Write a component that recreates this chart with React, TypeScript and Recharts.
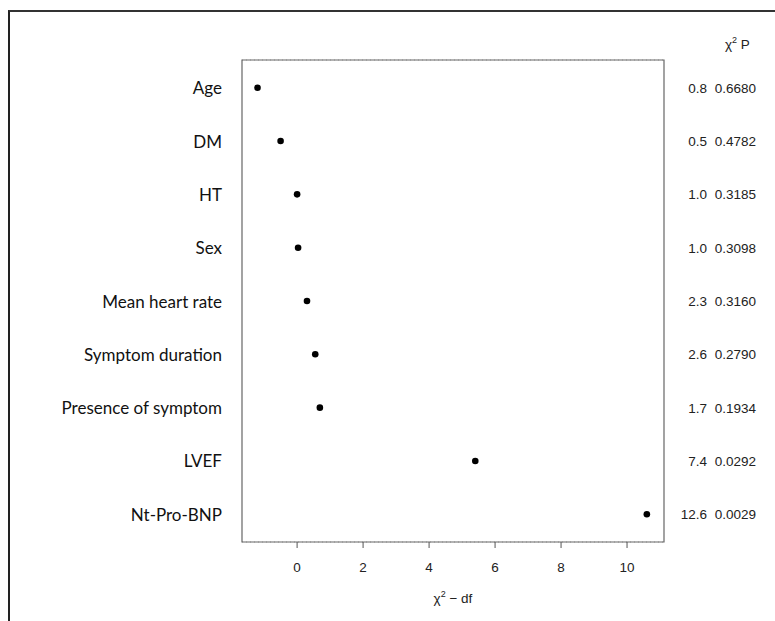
import {
  ScatterChart, Scatter, XAxis, YAxis, CartesianGrid, ReferenceArea,
} from 'recharts'

// rows top to bottom
const factors = [
  'Age', 'DM', 'HT', 'Sex', 'Mean heart rate', 'Symptom duration',
  'Presence of symptom', 'LVEF', 'Nt-Pro-BNP',
]
const chiMinusDf = [-1.2, -0.5, 0.0, 0.03, 0.3, 0.55, 0.69, 5.4, 10.6]
const chiSquare = ['0.8', '0.5', '1.0', '1.0', '2.3', '2.6', '1.7', '7.4', '12.6']
const pValues = ['0.6680', '0.4782', '0.3185', '0.3098', '0.3160', '0.2790', '0.1934', '0.0292', '0.0029']
const xTicks = [0, 2, 4, 6, 8, 10]

const rows = factors.map((name, i) => ({
  name,
  row: i + 1,
  value: chiMinusDf[i],
  chi: chiSquare[i],
  p: pValues[i],
}))
const rowTicks = rows.map(r => r.row)

const X_DOMAIN: [number, number] = [-1.67, 11.12]
const Y_DOMAIN: [number, number] = [0.48, 9.52]
const SANS = "'Liberation Sans', Arial, sans-serif"

const LeftTick = ({ x, y, payload }: any) => {
  const r = rows[payload.value - 1]
  if (!r) return null
  return (
    <text x={x - 12} y={y} textAnchor="end" dominantBaseline="central"
      fontFamily="Lato, 'Open Sans', sans-serif" fontSize={17} fill="#111">
      {r.name}
    </text>
  )
}

const RightTick = ({ y, payload }: any) => {
  const r = rows[payload.value - 1]
  if (!r) return null
  return (
    <g fontFamily={SANS} fontSize={13.5} fill="#222">
      <text x={707} y={y + 5} textAnchor="end">{r.chi}</text>
      <text x={756} y={y + 5} textAnchor="end">{r.p}</text>
    </g>
  )
}

const BottomTick = ({ x, y, payload }: any) => (
  <text x={x} y={y + 22} textAnchor="middle" fontFamily={SANS} fontSize={13.5} fill="#222">
    {payload.value}
  </text>
)

const AxisTitle = ({ viewBox }: any) => {
  const cx = viewBox.x + viewBox.width / 2
  return (
    <text x={cx} y={603} textAnchor="middle" fontFamily={SANS} fontSize={13.5} fill="#222">
      <tspan>χ</tspan>
      <tspan dy={-6} fontSize={9}>2</tspan>
      <tspan dy={6}> − df</tspan>
    </text>
  )
}

export default function App() {
  return (
    <div style={{ position: 'absolute', left: 0, top: 0, width: 775, height: 621, background: '#fff', overflow: 'hidden' }}>
      <div style={{
        position: 'absolute', left: 8, top: 10, width: 800, height: 700,
        borderTop: '2px solid #333', borderLeft: '2px solid #222',
      }} />
      <div style={{
        position: 'absolute', left: 725, top: 35, fontFamily: SANS,
        fontSize: 13.5, color: '#222', whiteSpace: 'nowrap',
      }}>
        χ<sup style={{ fontSize: 9 }}>2</sup>&nbsp;P
      </div>
      <ScatterChart width={775} height={621}
        margin={{ top: 60, right: 0, bottom: 29, left: 8 }}
        style={{ position: 'absolute', left: 0, top: 0 }}>
        <CartesianGrid vertical={false} stroke="#b0b0b0" strokeDasharray="1 3" />
        <XAxis type="number" dataKey="value" domain={X_DOMAIN} ticks={xTicks}
          allowDataOverflow axisLine={false} tickLine={{ stroke: '#555' }} tickSize={6}
          height={50} interval={0} tick={<BottomTick />}
          label={<AxisTitle />} />
        <YAxis yAxisId="left" type="number" dataKey="row" domain={Y_DOMAIN} ticks={rowTicks}
          reversed allowDataOverflow width={234} axisLine={false} tickLine={false}
          tick={<LeftTick />} interval={0} />
        <YAxis yAxisId="right" orientation="right" type="number" dataKey="row" domain={Y_DOMAIN}
          ticks={rowTicks} reversed allowDataOverflow width={111} axisLine={false} tickLine={false}
          tick={<RightTick />} interval={0} />
        <ReferenceArea yAxisId="left" x1={X_DOMAIN[0]} x2={X_DOMAIN[1]} y1={Y_DOMAIN[0]} y2={Y_DOMAIN[1]}
          fill="none" stroke="#666" strokeWidth={1.2} ifOverflow="visible" />
        <Scatter yAxisId="left" data={rows} fill="#000" isAnimationActive={false}
          shape={(props: any) => <circle cx={props.cx} cy={props.cy} r={3.3} fill="#000" />} />
      </ScatterChart>
    </div>
  )
}
